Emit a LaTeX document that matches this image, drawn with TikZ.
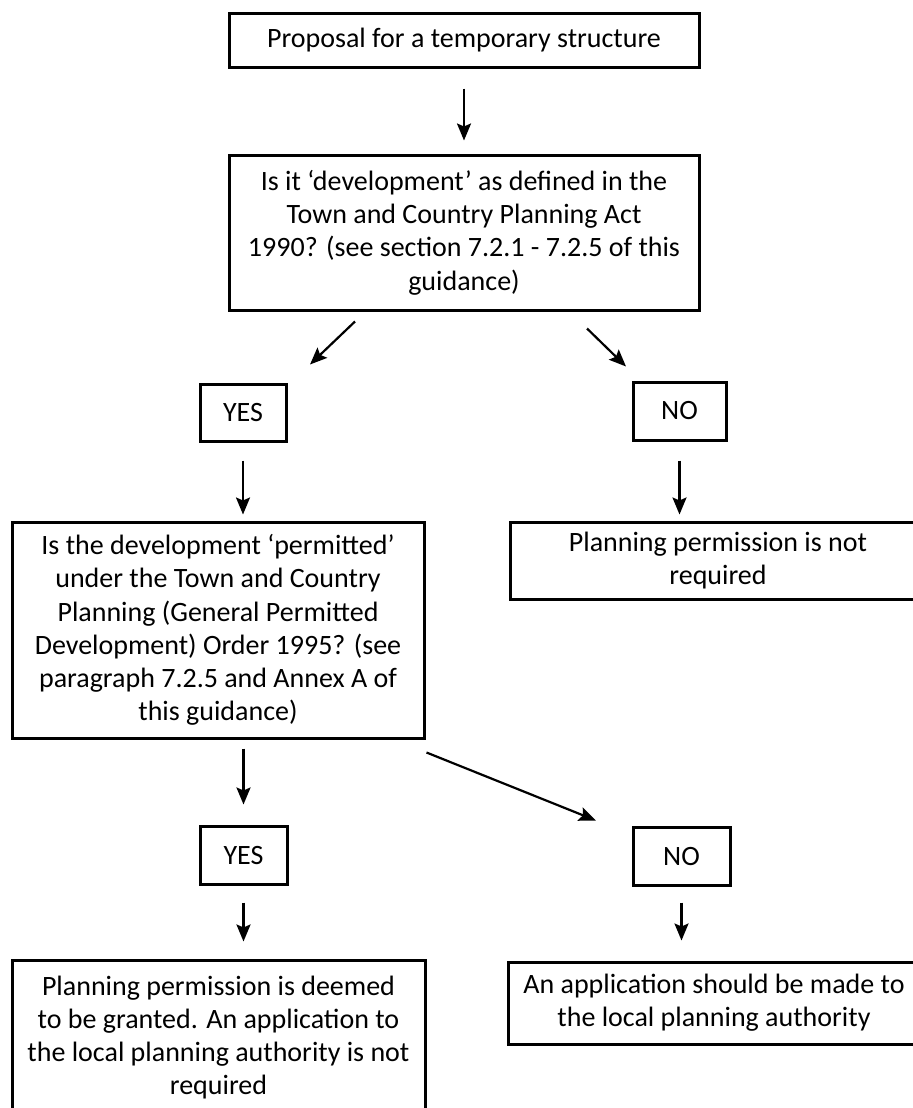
\documentclass[tikz,border=0pt]{standalone}
\usepackage{fontspec}
\setmainfont{Carlito}
\usetikzlibrary{arrows.meta,calc}
\newcommand{\chartfont}{\fontsize{14}{16.65}\selectfont}
\tikzset{
  box/.style={draw, line width=1.5pt, align=center, inner sep=0pt, font=\chartfont},
  arr/.style={-{Stealth[length=8.5pt,width=7pt,inset=1.5pt]}, line width=1.1pt},
}
\begin{document}
\begin{tikzpicture}[x=0.5pt,y=-0.5pt]
\useasboundingbox (0,0) rectangle (912,1108);

\node[box, minimum width=235pt, minimum height=27pt] (prop) at (464,40) {Proposal for a temporary structure};
\node[box, minimum width=235pt, minimum height=77.5pt] (q1) at (464,232.5) {Is it ‘development’ as defined in the\\Town and Country Planning Act\\1990? (see section 7.2.1 - 7.2.5 of this\\guidance)};

\node[box, minimum width=43pt, minimum height=28.5pt] (yes1) at (243,412.5) {YES};
\node[box, minimum width=46.5pt, minimum height=29pt] (no1) at (679.5,411) {NO};

\node[box, minimum width=206pt, minimum height=108pt] (q2) at (218,630) {Is the development ‘permitted’\\under the Town and Country\\Planning (General Permitted\\Development) Order 1995? (see\\paragraph 7.2.5 and Annex A of\\this guidance)};
\node[box, minimum width=208pt, minimum height=38.5pt] (npr) at (718,560.5) {Planning permission is not\\required};

\node[box, minimum width=43.5pt, minimum height=29pt] (yes2) at (243.5,855) {YES};
\node[box, minimum width=48.5pt, minimum height=29pt] (no2) at (681.5,856) {NO};

\node[box, minimum width=206.5pt, minimum height=77.5pt] (granted) at (218.5,1037.5) {Planning permission is deemed\\to be granted. An application to\\the local planning authority is not\\required};
\node[box, minimum width=206pt, minimum height=41pt] (apply) at (714,1003) {An application should be made to\\the local planning authority};

\draw[arr, shorten <=10pt, shorten >=6.5pt] (prop) -- (q1);
\draw[arr] ($(q1.south)+(-109,10)$) -- ($(yes1.north)+(67,-18)$);
\draw[arr] ($(q1.south)+(123,17)$) -- ($(no1.north)+(-53.5,-14)$);

\draw[arr, shorten <=9pt, shorten >=3pt] (yes1.south) -- (yes1.south |- q2.north);
\draw[arr, shorten <=9.5pt, shorten >=3pt] (no1.south) -- (no1.south |- npr.north);

\draw[arr, shorten <=4.5pt, shorten >=10pt] (yes2.north |- q2.south) -- (yes2.north);
\draw[arr] ($(q2.south east)+(1,13)$) -- ($(no2.north)+(-85.5,-5)$);

\draw[arr, shorten <=8.5pt, shorten >=8.5pt] (yes2.south) -- (yes2.south |- granted.north);
\draw[arr, shorten <=8pt, shorten >=10pt] (no2.south) -- (no2.south |- apply.north);
\end{tikzpicture}
\end{document}
